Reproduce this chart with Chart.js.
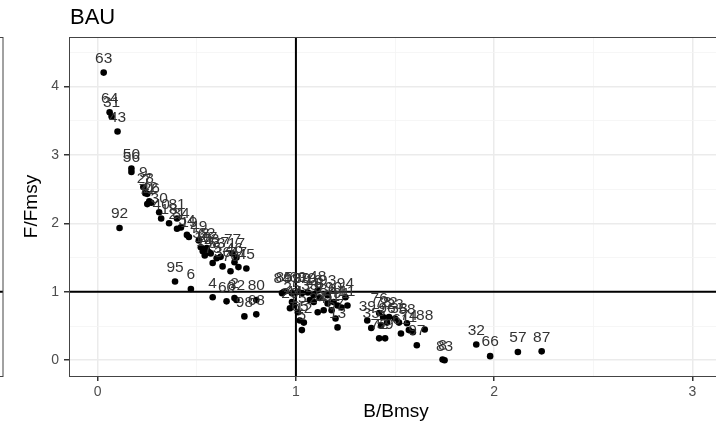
<!DOCTYPE html>
<html>
<head>
<meta charset="utf-8">
<title>BAU</title>
<script src="https://cdn.jsdelivr.net/npm/chart.js@4.4.1/dist/chart.umd.min.js"></script>
<style>
  html, body { margin: 0; padding: 0; background: #fff; overflow: hidden; }
  canvas { display: block; }
</style>
</head>
<body>
<canvas id="kobe" width="740" height="426"></canvas>
<script>
// Stock ids and their B/Bmsy, F/Fmsy values
const stockIds = [
  "63", "64", "31", "43", "50", "56", "9", "28", "7", "42",
  "71", "26", "30", "40", "18", "81", "34", "21", "54", "19",
  "49", "52", "10", "62", "27", "73", "75", "53", "36", "37",
  "70", "77", "46", "47", "17", "45", "14", "92", "95", "6",
  "4", "60", "2", "82", "98", "68", "80", "84", "85", "99",
  "69", "89", "79", "16", "48", "33", "25", "44", "20", "15",
  "65", "12", "5", "29", "24", "55", "86", "51", "90", "41",
  "67", "13", "91", "11", "94", "93", "8", "39", "35", "76",
  "78", "96", "3", "72", "59", "22", "23", "38", "61", "58",
  "74", "1", "88", "97", "8", "83", "32", "66", "57", "87"
];
const bRatio = [
  0.03, 0.06, 0.07, 0.10, 0.17, 0.17, 0.23, 0.24, 0.25, 0.26,
  0.25, 0.27, 0.31, 0.32, 0.36, 0.40, 0.42, 0.40, 0.45, 0.46,
  0.51, 0.52, 0.53, 0.55, 0.56, 0.57, 0.58, 0.60, 0.63, 0.62,
  0.67, 0.68, 0.69, 0.71, 0.70, 0.75, 0.54, 0.11, 0.39, 0.47,
  0.58, 0.65, 0.69, 0.70, 0.74, 0.80, 0.80, 0.93, 0.94, 0.98,
  1.01, 1.03, 1.06, 1.09, 1.11, 1.07, 0.98, 0.99, 0.97, 1.01,
  1.02, 1.04, 1.03, 1.09, 1.11, 1.14, 1.16, 1.18, 1.19, 1.21,
  1.20, 1.21, 1.23, 1.26, 1.25, 1.16, 1.12, 1.36, 1.38, 1.42,
  1.44, 1.46, 1.43, 1.42, 1.45, 1.47, 1.50, 1.52, 1.53, 1.56,
  1.57, 1.59, 1.65, 1.61, 1.74, 1.75, 1.91, 1.98, 2.12, 2.24
];
const fRatio = [
  4.20, 3.62, 3.56, 3.34, 2.80, 2.75, 2.53, 2.44, 2.43, 2.32,
  2.28, 2.30, 2.16, 2.07, 2.00, 2.07, 1.94, 1.92, 1.83, 1.80,
  1.75, 1.65, 1.59, 1.64, 1.58, 1.56, 1.42, 1.49, 1.37, 1.51,
  1.30, 1.56, 1.43, 1.36, 1.50, 1.34, 1.53, 1.93, 1.15, 1.04,
  0.92, 0.86, 0.91, 0.88, 0.64, 0.67, 0.88, 0.98, 1.00, 0.98,
  1.00, 0.98, 0.99, 0.95, 1.02, 0.88, 0.85, 0.80, 0.76, 0.70,
  0.58, 0.55, 0.44, 0.85, 0.70, 0.73, 0.83, 0.73, 0.85, 0.80,
  0.61, 0.48, 0.77, 0.80, 0.92, 0.95, 0.91, 0.58, 0.47, 0.69,
  0.63, 0.55, 0.51, 0.32, 0.32, 0.63, 0.61, 0.55, 0.39, 0.54,
  0.44, 0.41, 0.45, 0.22, 0.01, 0.00, 0.23, 0.06, 0.12, 0.13
];

// Axis ticks (major) and the half steps used for minor grid lines
const xTicks = [0, 1, 2, 3];
const yTicks = [0, 1, 2, 3, 4];
const xGrid = [0, 0.5, 1, 1.5, 2, 2.5, 3];
const yGrid = [0, 0.5, 1, 1.5, 2, 2.5, 3, 3.5, 4, 4.5];

const panelTitle = "BAU";
const refB = 1;
const refF = 1;

Chart.defaults.font.family = '"Liberation Sans", Arial, sans-serif';

const points = bRatio.map((b, i) => ({ x: b, y: fRatio[i] }));

function isMajor(list, v) {
  return list.some(t => Math.abs(t - v) < 1e-9);
}

// Kobe panel: frame, reference lines, title and point labels
const kobePlugin = {
  id: 'kobe',
  beforeDatasetsDraw(chart) {
    const { ctx, chartArea, scales } = chart;
    const px = scales.x.getPixelForValue(refB);
    const py = scales.y.getPixelForValue(refF);
    ctx.save();
    ctx.strokeStyle = '#000';
    ctx.lineWidth = 2;
    ctx.beginPath();
    ctx.moveTo(px, chartArea.top);
    ctx.lineTo(px, chartArea.bottom);
    ctx.moveTo(chartArea.left, py);
    ctx.lineTo(chartArea.right, py);
    // neighbouring facet, cut off at the left edge
    ctx.moveTo(0, py);
    ctx.lineTo(3, py);
    ctx.stroke();
    ctx.restore();
  },
  afterDatasetsDraw(chart) {
    const { ctx } = chart;
    const meta = chart.getDatasetMeta(0);
    ctx.save();
    ctx.font = '15.5px "Liberation Sans", Arial, sans-serif';
    ctx.fillStyle = '#333';
    ctx.textAlign = 'center';
    ctx.textBaseline = 'middle';
    meta.data.forEach((el, i) => {
      ctx.fillText(stockIds[i], el.x, el.y - 14);
    });
    ctx.restore();
  },
  afterDraw(chart) {
    const { ctx, chartArea } = chart;
    const { left, top, right, bottom } = chartArea;
    ctx.save();
    ctx.strokeStyle = '#444';
    ctx.lineWidth = 1;
    ctx.strokeRect(Math.round(left) + 0.5, Math.round(top) + 0.5, right - left, bottom - top);
    ctx.strokeRect(-10.5, Math.round(top) + 0.5, 13.5, bottom - top);
    ctx.fillStyle = '#000';
    ctx.font = '22px "Liberation Sans", Arial, sans-serif';
    ctx.textAlign = 'left';
    ctx.textBaseline = 'alphabetic';
    ctx.fillText(panelTitle, left + 1, 24);
    ctx.restore();
  }
};

function gridOpts(list) {
  return {
    color: c => isMajor(list, c.tick.value) ? '#ebebeb' : '#f4f4f4',
    lineWidth: c => isMajor(list, c.tick.value) ? 1.5 : 0.8,
    tickColor: c => isMajor(list, c.tick.value) ? '#333' : 'rgba(0,0,0,0)',
    tickLength: 5,
    drawTicks: true
  };
}

new Chart(document.getElementById('kobe'), {
  type: 'scatter',
  data: {
    datasets: [{
      data: points,
      backgroundColor: '#000',
      borderColor: '#000',
      borderWidth: 0,
      pointRadius: 3.3,
      pointHoverRadius: 3.3
    }]
  },
  options: {
    responsive: false,
    animation: false,
    events: [],
    layout: { padding: { top: 37, right: 17, left: 20, bottom: 3 } },
    plugins: {
      legend: { display: false },
      tooltip: { enabled: false }
    },
    scales: {
      x: {
        type: 'linear',
        min: -0.145,
        max: 3.155,
        afterBuildTicks: s => { s.ticks = xGrid.map(v => ({ value: v })); },
        afterFit: s => { s.height = 47; },
        ticks: {
          autoSkip: false,
          maxRotation: 0,
          padding: 3,
          color: '#4d4d4d',
          font: { size: 14 },
          callback: v => isMajor(xTicks, v) ? String(v) : ''
        },
        grid: gridOpts(xTicks),
        border: { display: false },
        title: { display: true, text: 'B/Bmsy', color: '#000', font: { size: 19 }, padding: 0 }
      },
      y: {
        type: 'linear',
        min: -0.23,
        max: 4.72,
        afterBuildTicks: s => { s.ticks = yGrid.map(v => ({ value: v })); },
        afterFit: s => { s.width = 49; },
        ticks: {
          autoSkip: false,
          padding: 5,
          color: '#4d4d4d',
          font: { size: 14 },
          callback: v => isMajor(yTicks, v) ? String(v) : ''
        },
        grid: gridOpts(yTicks),
        border: { display: false },
        title: { display: true, text: 'F/Fmsy', color: '#000', font: { size: 19 }, padding: 0 }
      }
    }
  },
  plugins: [kobePlugin]
});
</script>
</body>
</html>
